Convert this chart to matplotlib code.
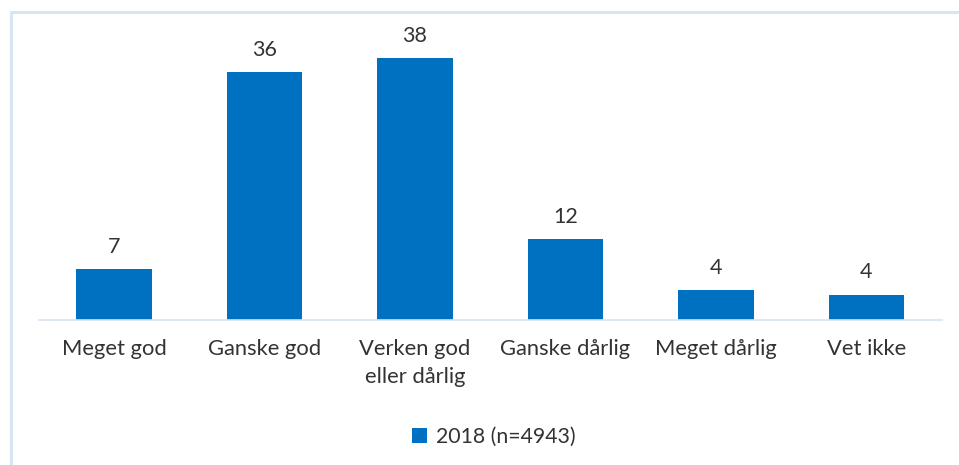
import numpy as np
import matplotlib.pyplot as plt
from matplotlib.patches import Rectangle

plt.rcParams['font.family'] = ['Lato', 'DejaVu Sans']

categories = ['Meget god', 'Ganske god', 'Verken god\neller dårlig',
              'Ganske dårlig', 'Meget dårlig', 'Vet ikke']
values = [7.4, 36, 38, 11.7, 4.3, 3.7]
series_name = '2018 (n=4943)'

bar_color = '#0070C0'
text_color = '#333333'

fig = plt.figure(figsize=(9.59, 4.65), dpi=100)
ax = fig.add_axes([0.0404, 0.3118, 0.9416, 0.5924])

x = np.arange(len(categories))
bars = ax.bar(x, values, width=0.5, color=bar_color, label=series_name)

for xi, v in zip(x, values):
    ax.annotate('%.0f' % v, (xi, v), xytext=(0, 9), textcoords='offset points',
                ha='center', va='bottom', fontsize=15.5, color=text_color)

ax.set_xlim(-0.5, len(categories) - 0.5)
ax.set_ylim(0, 40)
ax.set_xticks(x)
ax.set_xticklabels(categories, fontsize=15.8, color=text_color, linespacing=1.5)
ax.tick_params(axis='x', length=0, pad=14)
ax.set_yticks([])
for s in ['top', 'right', 'left']:
    ax.spines[s].set_visible(False)
ax.spines['bottom'].set_color('#d9e3f1')
ax.spines['bottom'].set_linewidth(1.2)

leg = fig.legend(handles=[bars], labels=[series_name], loc='center',
                 bbox_to_anchor=(0.515, 0.061), frameon=False, fontsize=15.3,
                 handlelength=0.7, handleheight=0.7, handletextpad=0.4)
for t in leg.get_texts():
    t.set_color(text_color)

# chart frame (only top and left edges fall inside the picture)
fig.patches.append(Rectangle((10.5 / 959, -0.1), 1.2, 1 - 12.5 / 465 + 0.1,
                             transform=fig.transFigure, fill=False,
                             edgecolor='#dae5f3', linewidth=2.2))

fig.savefig('out.png', dpi=100)
